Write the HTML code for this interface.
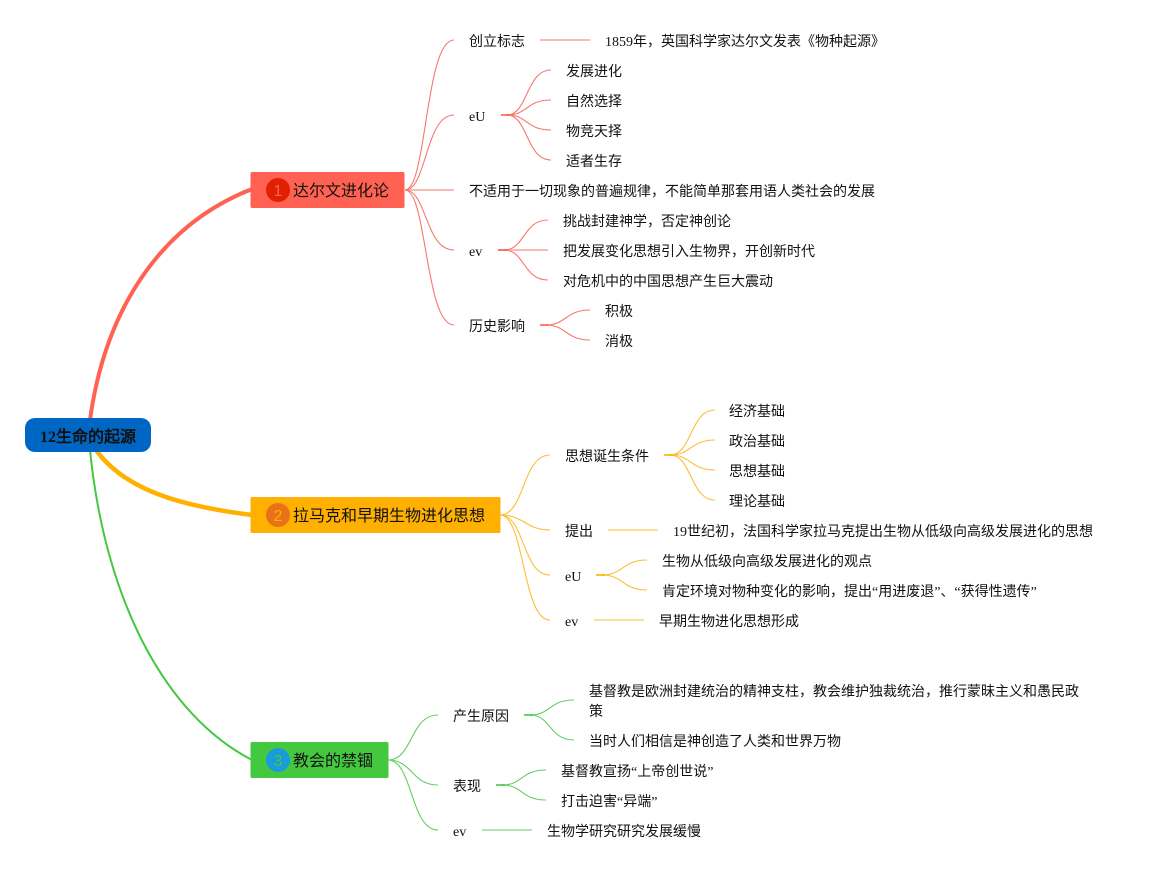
<!DOCTYPE html>
<html lang="zh"><head><meta charset="utf-8"><style>
html,body{margin:0;padding:0;background:#fff}
svg{display:block}
text{font-family:"Liberation Serif","WenQuanYi Zen Hei",serif;font-size:14px;fill:#111}
.t{font-size:16px}
.n{font-family:"Liberation Sans",sans-serif;font-size:16px;text-anchor:middle}
.q{font-family:"Noto Sans CJK SC",sans-serif}
.r path,.r line{stroke:#f4796c}
.y path,.y line{stroke:#fbbe36}
.g path,.g line{stroke:#66cc62}
path,line{fill:none;stroke-width:1.1}
line{stroke-width:2;opacity:.5}
</style></head><body>
<svg width="1153" height="870" viewBox="0 0 1153 870" xmlns="http://www.w3.org/2000/svg">
<rect width="1153" height="870" fill="#fff"/>
<path d="M90 420C105 310 160 225 252 189" style="stroke:#ff6252;stroke-width:4"/>
<path d="M96 450C125 490 180 506 252 515" style="stroke:#ffb000;stroke-width:4.5"/>
<path d="M90 450C105 600 165 715 252 760" style="stroke:#44c840;stroke-width:2"/>

<g class="r">
<path d="M405 190C427 190 425 40 454 40"/><path d="M405 190C427 190 425 115 454 115"/><line x1="405" y1="190" x2="454" y2="190"/><path d="M405 190C427 190 425 250 454 250"/><path d="M405 190C427 190 425 325 454 325"/>
<line x1="540" y1="40" x2="590" y2="40"/>
<path d="M507 115C528 115 526 70 551 70"/><path d="M507 115C528 115 526 100 551 100"/><path d="M507 115C528 115 526 130 551 130"/><path d="M507 115C528 115 526 160 551 160"/>
<path d="M501 115H510" style="stroke:#ff6252;stroke-width:2;opacity:.8"/>
<path d="M504 250C525 250 523 220 548 220"/><line x1="498" y1="250" x2="548" y2="250"/><path d="M504 250C525 250 523 280 548 280"/>
<path d="M498 250H507" style="stroke:#ff6252;stroke-width:2;opacity:.8"/>
<path d="M546 325C566 325 566 310 590 310"/><path d="M546 325C566 325 566 340 590 340"/>
<path d="M540 325H549" style="stroke:#ff6252;stroke-width:2;opacity:.8"/>
</g>
<g class="y">
<path d="M500 515C525 515 522 455 550 455"/><path d="M500 515C525 515 525 530 550 530"/><path d="M500 515C525 515 522 575 550 575"/><path d="M500 515C525 515 522 620 550 620"/>
<path d="M670 455C692 455 690 410 715 410"/><path d="M670 455C692 455 690 440 715 440"/><path d="M670 455C692 455 690 470 715 470"/><path d="M670 455C692 455 690 500 715 500"/>
<path d="M664 455H673" style="stroke:#ffb000;stroke-width:2;opacity:.8"/>
<line x1="608" y1="530" x2="658" y2="530"/>
<path d="M602 575C624 575 622 560 647 560"/><path d="M602 575C624 575 622 590 647 590"/>
<path d="M596 575H605" style="stroke:#ffb000;stroke-width:2;opacity:.8"/>
<line x1="594" y1="620" x2="644" y2="620"/>
</g>
<g class="g">
<path d="M388 760C413 760 410 715 438 715"/><path d="M388 760C413 760 411 785 438 785"/><path d="M388 760C413 760 410 830 438 830"/>
<path d="M530 715C551 715 549 700 574 700"/><path d="M530 715C551 715 549 740 574 740"/>
<path d="M524 715H533" style="stroke:#44c840;stroke-width:2;opacity:.8"/>
<path d="M502 785C523 785 521 770 546 770"/><path d="M502 785C523 785 521 800 546 800"/>
<path d="M496 785H505" style="stroke:#44c840;stroke-width:2;opacity:.8"/>
<line x1="482" y1="830" x2="532" y2="830"/>
</g>

<rect x="25" y="418" width="126" height="34" rx="10" fill="#0066c4"/>
<text x="40" y="442" style="font-weight:bold;font-size:16px">12生命的起源</text>

<rect x="250.5" y="172" width="154" height="36" rx="1.5" fill="#ff6252"/>
<circle cx="278" cy="190" r="12" fill="#e02000"/>
<text x="278" y="196" class="n" style="fill:#ff6252">1</text>
<text x="293" y="196" class="t">达尔文进化论</text>

<rect x="250.5" y="497" width="250" height="36" rx="1.5" fill="#ffb000"/>
<circle cx="278" cy="515" r="12" fill="#e8711a"/>
<text x="278" y="521" class="n" style="fill:#ffb000">2</text>
<text x="293" y="521" class="t">拉马克和早期生物进化思想</text>

<rect x="250.5" y="742" width="138" height="36" rx="1.5" fill="#44c840"/>
<circle cx="278" cy="760" r="12" fill="#1a9bdc"/>
<text x="278" y="766" class="n" style="fill:#44c840">3</text>
<text x="293" y="766" class="t">教会的禁锢</text>

<text x="469" y="46">创立标志</text>
<text x="605" y="46">1859年，英国科学家达尔文发表<tspan class="q">《</tspan>物种起源<tspan class="q">》</tspan></text>
<text x="469" y="121">eU</text>
<text x="566" y="76">发展进化</text>
<text x="566" y="106">自然选择</text>
<text x="566" y="136">物竞天择</text>
<text x="566" y="166">适者生存</text>
<text x="469" y="196">不适用于一切现象的普遍规律，不能简单那套用语人类社会的发展</text>
<text x="469" y="256">ev</text>
<text x="563" y="226">挑战封建神学，否定神创论</text>
<text x="563" y="256">把发展变化思想引入生物界，开创新时代</text>
<text x="563" y="286">对危机中的中国思想产生巨大震动</text>
<text x="469" y="331">历史影响</text>
<text x="605" y="316">积极</text>
<text x="605" y="346">消极</text>

<text x="565" y="461">思想诞生条件</text>
<text x="729" y="416">经济基础</text>
<text x="729" y="446">政治基础</text>
<text x="729" y="476">思想基础</text>
<text x="729" y="506">理论基础</text>
<text x="565" y="536">提出</text>
<text x="673" y="536">19世纪初，法国科学家拉马克提出生物从低级向高级发展进化的思想</text>
<text x="565" y="581">eU</text>
<text x="662" y="566">生物从低级向高级发展进化的观点</text>
<text x="662" y="596">肯定环境对物种变化的影响，提出“用进废退”、“获得性遗传”</text>
<text x="565" y="626">ev</text>
<text x="659" y="626">早期生物进化思想形成</text>

<text x="453" y="721">产生原因</text>
<text x="589" y="696">基督教是欧洲封建统治的精神支柱，教会维护独裁统治，推行蒙昧主义和愚民政</text>
<text x="589" y="716">策</text>
<text x="589" y="746">当时人们相信是神创造了人类和世界万物</text>
<text x="453" y="791">表现</text>
<text x="561" y="776">基督教宣扬“上帝创世说”</text>
<text x="561" y="806">打击迫害“异端”</text>
<text x="453" y="836">ev</text>
<text x="547" y="836">生物学研究研究发展缓慢</text>
</svg>
</body></html>
